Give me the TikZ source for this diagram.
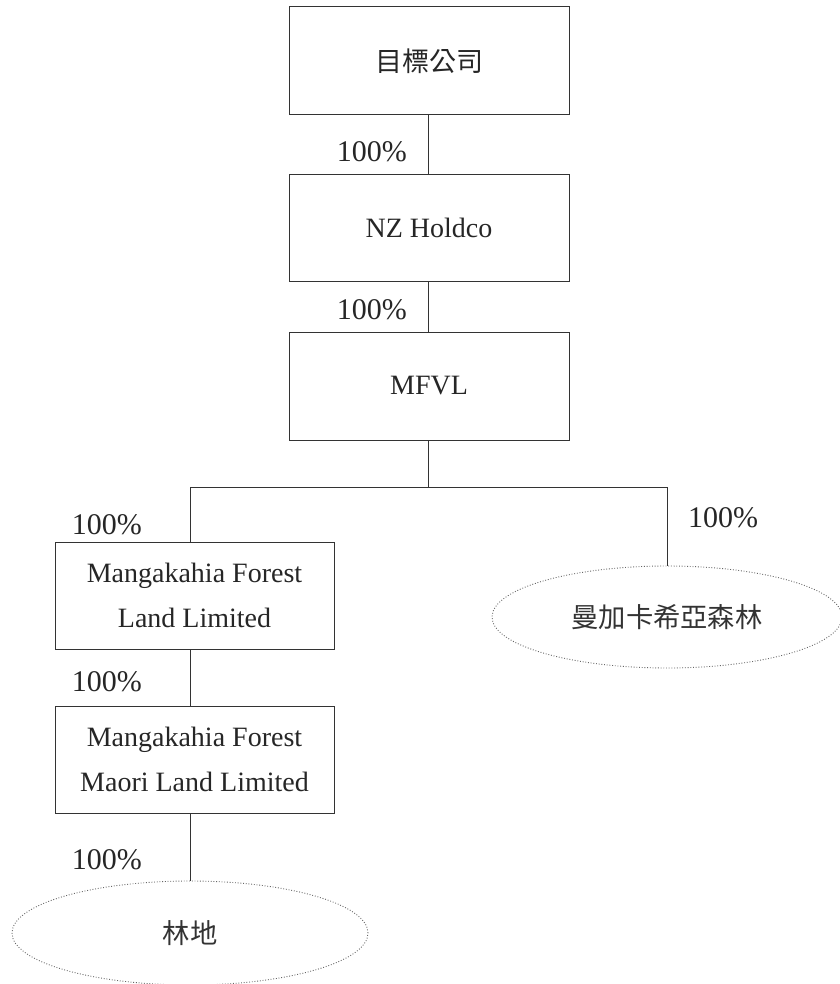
\documentclass[tikz,border=0pt]{standalone}
\usepackage{fontspec}
\setmainfont{Liberation Serif}
\newfontfamily\cjk{Noto Sans CJK TC}
\usetikzlibrary{shapes.geometric}
\begin{document}
\begin{tikzpicture}[x=1pt,y=-1pt,
  box/.style={draw=black!80, line width=1pt, minimum width=280pt, minimum height=108pt, inner sep=0pt, align=center, font=\fontsize{28}{45}\selectfont, text=black!85},
  oval/.style={ellipse, draw=black!60, line width=0.9pt, dash pattern=on 0.9pt off 1.8pt, inner sep=0pt, font=\cjk\fontsize{27.3}{30}\selectfont, text=black!80},
  pct/.style={font=\fontsize{30}{32}\selectfont, inner sep=0pt, text=black!85},
  conn/.style={draw=black!80, line width=1pt}]
\useasboundingbox (0,0) rectangle (839,984);
\node[box] (b1) at (429,61) {{\cjk\fontsize{27}{30}\selectfont 目標公司}};
\node[box, minimum height=107pt] (b2) at (429,228) {NZ Holdco};
\node[box] (b3) at (429,386) {MFVL};
\node[box, minimum width=279pt, minimum height=107pt] (b4) at (194.5,595.5) {Mangakahia Forest\\Land Limited};
\node[box, minimum width=279pt, minimum height=107pt] (b5) at (194.5,759.5) {Mangakahia Forest\\Maori Land Limited};
\node[oval, minimum width=350pt, minimum height=102pt] (e1) at (667,617) {曼加卡希亞森林};
\node[oval, minimum width=356pt, minimum height=104pt] (e2) at (190,933) {林地};
\coordinate (jm) at (428,487);
\coordinate (jl) at (190,487);
\coordinate (jr) at (667,487);
\draw[conn] (b1.south -| jm) -- (b2.north -| jm);
\draw[conn] (b2.south -| jm) -- (b3.north -| jm);
\draw[conn] (b3.south -| jm) -- (jm);
\draw[conn] (jl) -- (jr);
\draw[conn] (jl) -- (b4.north -| jl);
\draw[conn] (jr) -- (e1.north);
\draw[conn] (b4.south -| jl) -- (b5.north -| jl);
\draw[conn] (b5.south -| jl) -- (e2.north);
\node[pct, anchor=east] (p1) at (407,152) {100\%};
\node[pct, anchor=east] (p2) at (407,310) {100\%};
\node[pct, anchor=east] (p3) at (142,525) {100\%};
\node[pct, anchor=east] (p4) at (142,682) {100\%};
\node[pct, anchor=west] (p5) at (688,518) {100\%};
\node[pct, anchor=east] (p6) at (142,860) {100\%};
\end{tikzpicture}
\end{document}
